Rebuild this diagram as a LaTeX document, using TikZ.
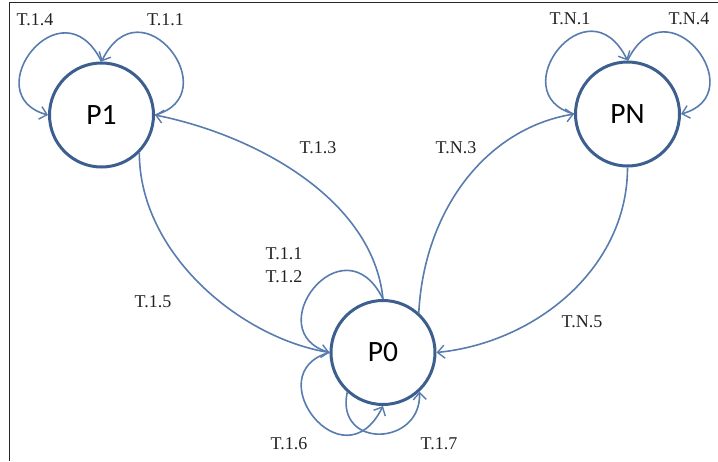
\documentclass[tikz,border=0pt]{standalone}
\usepackage{fontspec}
\setmainfont{Liberation Serif}
\newfontfamily\circfont{Carlito}
\usetikzlibrary{arrows.meta}
\definecolor{circblue}{HTML}{3D5F8F}
\definecolor{edgeblue}{HTML}{587CAE}
\definecolor{txt}{HTML}{222222}
\begin{document}
\begin{tikzpicture}[x=1pt,y=-1pt,
  state/.style={circle,draw=circblue,line width=3pt,minimum size=104pt,inner sep=0pt,
    font=\circfont\fontsize{29.5}{30}\selectfont,text=black},
  lbl/.style={font=\fontsize{18}{23}\selectfont,text=txt,inner sep=0pt,align=center},
  edge/.style={draw=edgeblue,line width=1.6pt,-{Straight Barb[length=7pt,width=13pt,line width=1.4pt]}},
  plain/.style={draw=edgeblue,line width=1.6pt}]
\useasboundingbox (0,0) rectangle (718,461);
\draw[line width=1pt,black!85] (9,461) -- (9,2) -- (718,2);

\node[state] (P1) at (101.5,115) {P1};
\node[state] (PN) at (627.5,114) {PN};
\node[state] (P0) at (383,352.5) {P0};

% P1 loops
\draw[edge] (P1.north) .. controls +(-40,-81) and +(-73,-20) .. (P1.west);
\draw[edge] (P1.east) .. controls +(73,-20) and +(40,-81) .. (P1.north);
% PN loops
\draw[edge] (PN.west) .. controls +(-73,-20) and +(-40,-81) .. (PN.north);
\draw[edge] (PN.north) .. controls +(40,-81) and +(73,-20) .. (PN.east);
% P0 loops
\draw[plain] (P0.north) .. controls +(-40,-81) and +(-73,-20) .. (P0.west);
\draw[edge] (P0.west) .. controls +(-73,20) and +(-40,81) .. (P0.south);
\draw[edge] (P0.-132) .. controls +(-12,57) and +(2,55) .. (P0.-47);

% long edges
\draw[edge] (P0.north) .. controls +(-10,-100) and +(100,20) .. (P1.east);
\draw[edge] (P1.-45) .. controls +(0,100) and +(-90,-15) .. (P0.west);
\draw[edge] (P0.48) .. controls +(5,-100) and +(-90,15) .. (PN.west);
\draw[edge] (PN.south) .. controls +(0,100) and +(100,-10) .. (P0.east);

% labels
\node[lbl] (l14) at (35,19.5) {T.1.4};
\node[lbl] (l11) at (165.5,19.5) {T.1.1};
\node[lbl] (ln1) at (570,19) {T.N.1};
\node[lbl] (ln4) at (689,19) {T.N.4};
\node[lbl] (l13) at (318,148) {T.1.3};
\node[lbl] (ln3) at (456,148) {T.N.3};
\node[lbl] (l112) at (284,265.5) {T.1.1\\T.1.2};
\node[lbl] (l15) at (153,302) {T.1.5};
\node[lbl] (ln5) at (582,322) {T.N.5};
\node[lbl] (l16) at (289,444) {T.1.6};
\node[lbl] (l17) at (439,444) {T.1.7};
\end{tikzpicture}
\end{document}
